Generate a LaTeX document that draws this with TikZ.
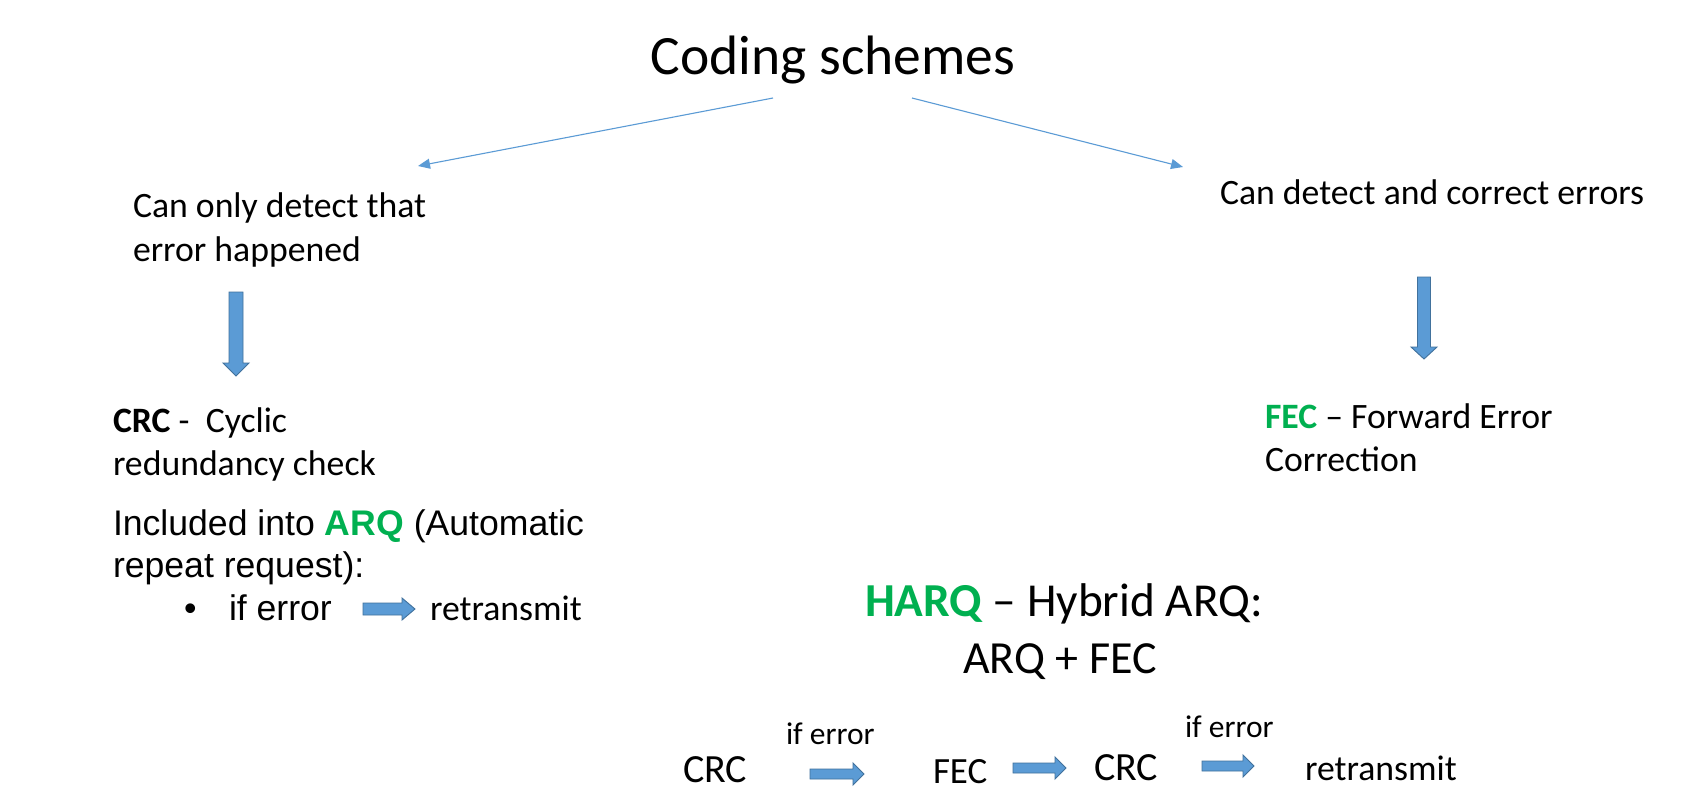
\documentclass[tikz,border=0pt]{standalone}
\usepackage{fontspec}
\setmainfont{Carlito}
\newfontfamily\arialf{Liberation Sans}
\usetikzlibrary{arrows.meta}
\definecolor{fillblue}{HTML}{5B9BD5}
\definecolor{edgeblue}{HTML}{41719C}
\definecolor{hgreen}{HTML}{00B050}
\newcommand\fsz[1]{\fontsize{#1}{#1}\selectfont}
\tikzset{
  txt/.style={inner sep=0pt, outer sep=0pt, anchor=base west},
  ctxt/.style={inner sep=0pt, outer sep=0pt, anchor=base},
  thinarrow/.style={draw=fillblue, line width=1.1pt, -{Triangle[length=12pt,width=10pt]}},
  barrow/.style={fill=fillblue, draw=edgeblue, line width=0.9pt, line join=miter},
  pics/rarrow/.style n args={4}{code={
    \draw[barrow] (0,-#2) -- (#1-#4,-#2) -- (#1-#4,-#3) -- (#1,0) -- (#1-#4,#3) -- (#1-#4,#2) -- (0,#2) -- cycle;}},
  pics/darrow/.style n args={4}{code={
    \draw[barrow] (-#2,0) -- (-#2,#1-#4) -- (-#3,#1-#4) -- (0,#1) -- (#3,#1-#4) -- (#2,#1-#4) -- (#2,0) -- cycle;}},
}
\begin{document}
\begin{tikzpicture}[x=1pt,y=-1pt]
\useasboundingbox[fill=white] (0,0) rectangle (1707,807);

% title
\node[ctxt, font=\fsz{55.5}] (title) at (833,74) {Coding schemes};
\coordinate (ls) at (773,98);
\coordinate (le) at (418,166);
\coordinate (rs) at (912,98);
\coordinate (re) at (1183,167);
\draw[thinarrow] (ls) -- (le);
\draw[thinarrow] (rs) -- (re);

% left branch
\node[txt, font=\fsz{35.7}] (det1) at (133,217) {Can only detect that};
\node[txt, font=\fsz{35.7}] (det2) at (133,261) {error happened};
\pic at (236,292) {darrow={84}{7}{13}{13}};
\node[txt, font=\fsz{35.7}] (crc1) at (113,432) {\textbf{CRC} -\ \ Cyclic};
\node[txt, font=\fsz{35.7}] (crc2) at (113,475) {redundancy check};
\node[txt, font=\arialf\fsz{35.6}] (arq1) at (113,535) {Included\ into\ \textbf{\color{hgreen}ARQ}\ (Automatic};
\node[txt, font=\arialf\fsz{35.6}] (arq2) at (113,577) {repeat request):};
\node[txt, font=\arialf\fsz{35.6}] (bul) at (184,620) {\textbullet};
\node[txt, font=\arialf\fsz{35.6}] (iferr) at (229,620) {if error};
\pic at (363,609) {rarrow={52}{6}{11}{13}};
\node[txt, font=\fsz{35.7}] (retr1) at (430,620) {retransmit};

% right branch
\node[txt, font=\fsz{35.7}] (corr) at (1220,204) {Can detect and correct errors};
\pic at (1424,277) {darrow={82}{6.5}{13}{12}};
\node[txt, font=\fsz{35.7}] (fec1) at (1265,428) {\textbf{\color{hgreen}FEC} -- Forward Error};
\node[txt, font=\fsz{35.7}] (fec2) at (1265,471) {Correction};

% HARQ
\node[ctxt, font=\fsz{47.3}] (harq1) at (1064,616) {\textbf{\color{hgreen}HARQ} -- Hybrid ARQ:};
\node[ctxt, font=\fsz{46}] (harq2) at (1060,673) {ARQ + FEC};

% bottom row
\node[txt, font=\fsz{40}] (bcrc1) at (683,782) {CRC};
\node[txt, font=\fsz{31.5}] (bif1) at (786,744) {if error};
\pic at (810,774) {rarrow={54}{5}{11}{11}};
\node[txt, font=\fsz{37}] (bfec) at (933,783) {FEC};
\pic at (1013,768) {rarrow={53}{5}{11}{11}};
\node[txt, font=\fsz{40}] (bcrc2) at (1094,780) {CRC};
\node[txt, font=\fsz{31.5}] (bif2) at (1185,737) {if error};
\pic at (1202,766) {rarrow={52}{5}{11}{11}};
\node[txt, font=\fsz{35.7}] (bret) at (1305,780) {retransmit};
\end{tikzpicture}
\end{document}
